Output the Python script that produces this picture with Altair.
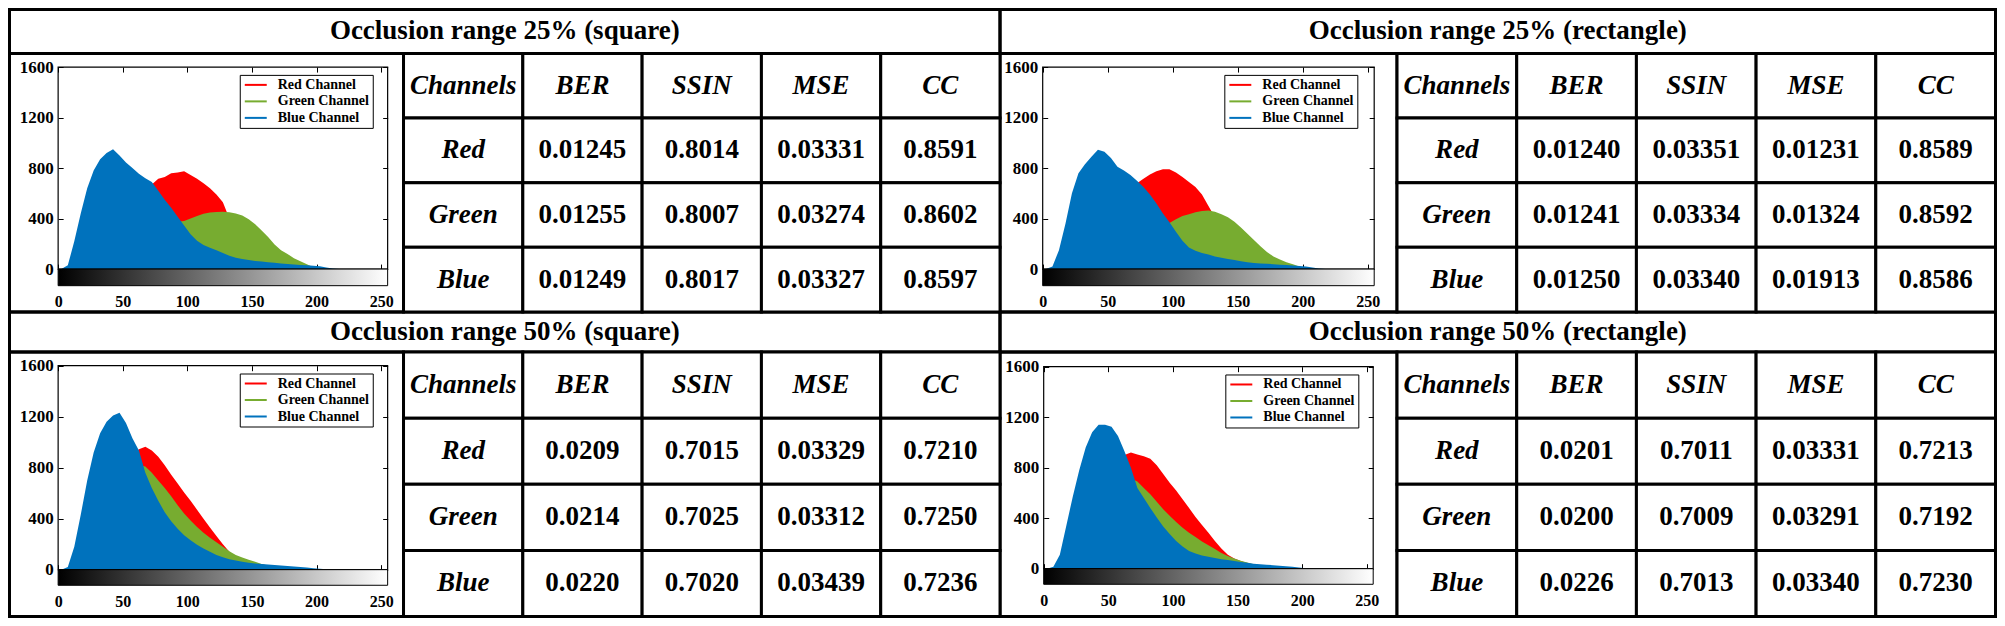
import altair as alt
import pandas as pd

W, H = 1989, 610
FONT = "Liberation Serif"

# ---------------- data ----------------
LEVELS = list(range(0, 256, 5))
CHANNEL_NAMES = ["Red Channel", "Green Channel", "Blue Channel"]
CHANNEL_COLORS = ["#ff0000", "#77ac30", "#0072bd"]
TITLES = ["Occlusion range 25% (square)", "Occlusion range 25% (rectangle)",
          "Occlusion range 50% (square)", "Occlusion range 50% (rectangle)"]
HEADERS = ["Channels", "BER", "SSIN", "MSE", "CC"]
ROW_NAMES = ["Red", "Green", "Blue"]
X_TICKS = [0, 50, 100, 150, 200, 250]
Y_TICKS = [0, 400, 800, 1200, 1600]

red_25_sq = [0, 10, 40, 100, 180, 260, 340, 410, 480, 540,
             590, 620, 645, 660, 670, 715, 730, 760, 765, 775,
             745, 715, 680, 640, 590, 530, 400, 380, 350, 320,
             280, 240, 200, 160, 120, 90, 60, 40, 25, 12,
             4, 0, 0, 0, 0, 0, 0, 0, 0, 0,
             0, 0]
green_25_sq = [0, 5, 20, 50, 90, 130, 170, 200, 230, 255,
               275, 295, 310, 325, 340, 350, 360, 368, 375, 380,
               400, 420, 438, 448, 452, 455, 450, 440, 425, 395,
               355, 305, 255, 195, 150, 120, 85, 62, 38, 15,
               5, 0, 0, 0, 0, 0, 0, 0, 0, 0,
               0, 0]
blue_25_sq = [0, 30, 220, 440, 640, 780, 870, 920, 950, 900,
              845, 800, 755, 720, 690, 620, 550, 485, 415, 345,
              275, 225, 190, 168, 150, 128, 105, 90, 80, 72,
              65, 60, 55, 50, 45, 40, 37, 33, 30, 26,
              22, 12, 4, 0, 0, 0, 0, 0, 0, 0,
              0, 0]

red_25_rect = [0, 5, 30, 90, 170, 250, 330, 400, 470, 530,
               580, 620, 650, 670, 680, 715, 750, 775, 790, 790,
               765, 730, 690, 650, 590, 500, 410, 390, 360, 330,
               290, 250, 210, 165, 125, 90, 62, 42, 26, 14,
               6, 0, 0, 0, 0, 0, 0, 0, 0, 0,
               0, 0]
green_25_rect = [0, 5, 20, 50, 90, 130, 170, 200, 230, 255,
                 275, 295, 310, 320, 330, 340, 348, 355, 360, 365,
                 395, 420, 435, 450, 460, 464, 455, 435, 410, 375,
                 330, 280, 230, 180, 135, 100, 75, 55, 38, 20,
                 8, 0, 0, 0, 0, 0, 0, 0, 0, 0,
                 0, 0]
blue_25_rect = [0, 20, 150, 360, 600, 760, 830, 890, 945, 930,
                880, 810, 780, 745, 700, 650, 590, 520, 440, 370,
                295, 225, 170, 145, 128, 115, 100, 90, 80, 72,
                62, 55, 48, 45, 42, 39, 35, 32, 28, 24,
                20, 12, 4, 0, 0, 0, 0, 0, 0, 0,
                0, 0]

red_50_sq = [0, 5, 40, 110, 210, 330, 460, 580, 690, 780,
             850, 900, 945, 965, 935, 885, 820, 745, 675, 605,
             540, 470, 400, 330, 265, 200, 140, 100, 85, 70,
             55, 40, 30, 22, 16, 10, 6, 3, 0, 0,
             0, 0, 0, 0, 0, 0, 0, 0, 0, 0,
             0, 0]
green_50_sq = [0, 10, 60, 150, 260, 380, 500, 600, 690, 760,
               810, 830, 820, 810, 760, 700, 640, 575, 505, 440,
               385, 335, 290, 250, 215, 180, 145, 115, 95, 78,
               62, 45, 32, 25, 18, 12, 8, 4, 0, 0,
               0, 0, 0, 0, 0, 0, 0, 0, 0, 0,
               0, 0]
blue_50_sq = [0, 20, 180, 430, 700, 920, 1070, 1160, 1210, 1230,
              1150, 1030, 935, 760, 640, 540, 450, 380, 320, 270,
              230, 195, 165, 140, 115, 97, 82, 72, 62, 55,
              48, 44, 40, 36, 32, 28, 24, 20, 16, 12,
              8, 4, 0, 0, 0, 0, 0, 0, 0, 0,
              0, 0]

red_50_rect = [0, 5, 40, 120, 230, 360, 490, 600, 700, 780,
               840, 880, 900, 920, 905, 890, 870, 820, 750, 680,
               620, 550, 480, 410, 345, 285, 220, 160, 110, 80,
               60, 45, 33, 24, 17, 11, 6, 3, 0, 0,
               0, 0, 0, 0, 0, 0, 0, 0, 0, 0,
               0, 0]
green_50_rect = [0, 5, 40, 120, 230, 350, 470, 570, 650, 710,
                 740, 750, 740, 715, 690, 640, 590, 530, 470, 420,
                 370, 325, 285, 250, 215, 185, 155, 125, 100, 80,
                 62, 48, 36, 26, 18, 12, 7, 3, 0, 0,
                 0, 0, 0, 0, 0, 0, 0, 0, 0, 0,
                 0, 0]
blue_50_rect = [0, 15, 110, 340, 570, 780, 960, 1080, 1140, 1140,
                1125, 1050, 930, 800, 640, 560, 480, 405, 335, 275,
                220, 175, 140, 120, 105, 95, 85, 75, 68, 60,
                53, 47, 40, 36, 32, 28, 24, 20, 15, 9,
                4, 0, 0, 0, 0, 0, 0, 0, 0, 0,
                0, 0]

ber_25_sq = ["0.01245", "0.01255", "0.01249"]
ssin_25_sq = ["0.8014", "0.8007", "0.8017"]
mse_25_sq = ["0.03331", "0.03274", "0.03327"]
cc_25_sq = ["0.8591", "0.8602", "0.8597"]

ber_25_rect = ["0.01240", "0.01241", "0.01250"]
ssin_25_rect = ["0.03351", "0.03334", "0.03340"]
mse_25_rect = ["0.01231", "0.01324", "0.01913"]
cc_25_rect = ["0.8589", "0.8592", "0.8586"]

ber_50_sq = ["0.0209", "0.0214", "0.0220"]
ssin_50_sq = ["0.7015", "0.7025", "0.7020"]
mse_50_sq = ["0.03329", "0.03312", "0.03439"]
cc_50_sq = ["0.7210", "0.7250", "0.7236"]

ber_50_rect = ["0.0201", "0.0200", "0.0226"]
ssin_50_rect = ["0.7011", "0.7009", "0.7013"]
mse_50_rect = ["0.03331", "0.03291", "0.03340"]
cc_50_rect = ["0.7213", "0.7192", "0.7230"]

HISTS = [(red_25_sq, green_25_sq, blue_25_sq),
         (red_25_rect, green_25_rect, blue_25_rect),
         (red_50_sq, green_50_sq, blue_50_sq),
         (red_50_rect, green_50_rect, blue_50_rect)]
TABLES = [(ber_25_sq, ssin_25_sq, mse_25_sq, cc_25_sq),
          (ber_25_rect, ssin_25_rect, mse_25_rect, cc_25_rect),
          (ber_50_sq, ssin_50_sq, mse_50_sq, cc_50_sq),
          (ber_50_rect, ssin_50_rect, mse_50_rect, cc_50_rect)]

# ---------------- layout (reference pixel grid) ----------------
def fx(rx):
    return (rx - 2) * (W - 3) / 2001 + 1.5


def fy(ry):
    return (ry - 2) * (H - 3) / 622 + 1.5


PANELS = [
    dict(x0=2, x1=1000, y0=2, y1=312, ty=47, hx=399, px0=51, px1=383, py0=61, py1=268, gb=285),
    dict(x0=1000, x1=2003, y0=2, y1=312, ty=47, hx=1400, px0=1043, px1=1377, py0=61, py1=268, gb=285),
    dict(x0=2, x1=1000, y0=312, y1=624, ty=353, hx=399, px0=51, px1=383, py0=367, py1=576, gb=592),
    dict(x0=1000, x1=2003, y0=312, y1=624, ty=353, hx=1400, px0=1044, px1=1376, py0=368, py1=575, gb=591),
]

px_x = alt.Scale(domain=[0, W], range=[0, W], nice=False, zero=False)
px_y = alt.Scale(domain=[0, H], range=[0, H], nice=False, zero=False)

layers = []

# frames: title cells and histogram cells
frames, titles = [], []
for i, p in enumerate(PANELS):
    frames.append(dict(x=fx(p["x0"]), x2=fx(p["x1"]), y=fy(p["y0"]), y2=fy(p["ty"])))
    frames.append(dict(x=fx(p["x0"]), x2=fx(p["hx"]), y=fy(p["ty"]), y2=fy(p["y1"])))
    titles.append(dict(t=TITLES[i], x=fx((p["x0"] + p["x1"]) / 2), y=fy((p["y0"] + p["ty"]) / 2)))

layers.append(
    alt.Chart(pd.DataFrame(frames)).mark_rect(fill="transparent", stroke="black", strokeWidth=3).encode(
        x=alt.X("x:Q", scale=px_x, axis=None), x2="x2:Q",
        y=alt.Y("y:Q", scale=px_y, axis=None), y2="y2:Q")
)
layers.append(
    alt.Chart(pd.DataFrame(titles)).mark_text(font=FONT, fontSize=27, fontWeight="bold",
                                              color="black", align="center", baseline="middle").encode(
        x=alt.X("x:Q", scale=px_x, axis=None),
        y=alt.Y("y:Q", scale=px_y, axis=None), text="t:N")
)

# tables
ROW_KEYS = ["hdr"] + ROW_NAMES
for i, p in enumerate(PANELS):
    cells = []
    for c in HEADERS:
        cells.append(dict(col=c, row="hdr", label=c, it=True))
    for r_i, r in enumerate(ROW_NAMES):
        cells.append(dict(col="Channels", row=r, label=r, it=True))
        for m_i, m in enumerate(HEADERS[1:]):
            cells.append(dict(col=m, row=r, label=TABLES[i][m_i][r_i], it=False))
    df = pd.DataFrame(cells)
    xb = alt.Scale(domain=HEADERS, range=[fx(p["hx"]), fx(p["x1"])], paddingInner=0, paddingOuter=0)
    yb = alt.Scale(domain=ROW_KEYS, range=[fy(p["ty"]), fy(p["y1"])], paddingInner=0, paddingOuter=0)
    enc = dict(x=alt.X("col:N", scale=xb, axis=None), y=alt.Y("row:N", scale=yb, axis=None))
    layers.append(alt.Chart(df).mark_rect(fill="white", stroke="black", strokeWidth=3).encode(**enc))
    layers.append(alt.Chart(df).transform_filter("datum.it").mark_text(
        font=FONT, fontSize=27, fontWeight="bold", fontStyle="italic", color="black",
        align="center", baseline="middle").encode(text="label:N", **enc))
    layers.append(alt.Chart(df).transform_filter("!datum.it").mark_text(
        font=FONT, fontSize=27, fontWeight="bold", color="black",
        align="center", baseline="middle").encode(text="label:N", **enc))

# histograms
grad = alt.LinearGradient(gradient="linear",
                          stops=[alt.GradientStop(color="black", offset=0),
                                 alt.GradientStop(color="white", offset=1)],
                          x1=0, x2=1, y1=0, y2=0)

for i, p in enumerate(PANELS):
    xs = alt.Scale(domain=[0, 255], range=[fx(p["px0"]), fx(p["px1"])], nice=False, zero=False)
    ys = alt.Scale(domain=[0, 1600], range=[fy(p["py1"]), fy(p["py0"])], nice=False, zero=False)
    common = dict(grid=False, title=None)
    tick_common = dict(labels=False, domain=False, ticks=True, tickSize=5, tickWidth=1,
                       tickColor="black", zindex=0, **common)
    x_axes = [
        alt.Axis(orient="bottom", offset=fy(p["gb"]) - H, values=X_TICKS, domain=False, ticks=False,
                 tickSize=0, labelPadding=8, labelFont=FONT, labelFontSize=16, labelFontWeight="bold",
                 labelColor="black", labelFlush=False, labelOverlap=False, format="d", zindex=1, **common),
        alt.Axis(orient="top", offset=-fy(p["py1"]), values=X_TICKS, **tick_common),
        alt.Axis(orient="bottom", offset=fy(p["py0"]) - H, values=X_TICKS, **tick_common),
    ]
    y_axes = [
        alt.Axis(orient="left", offset=-fx(p["px0"]), values=Y_TICKS, domain=False, ticks=False,
                 tickSize=0, labelPadding=5, labelFont=FONT, labelFontSize=17, labelFontWeight="bold",
                 labelColor="black", labelOverlap=False, format="d", zindex=1, **common),
        alt.Axis(orient="right", offset=fx(p["px0"]) - W, values=Y_TICKS, **tick_common),
        alt.Axis(orient="left", offset=-fx(p["px1"]), values=Y_TICKS, **tick_common),
    ]
    for c_i in range(3):
        hdf = pd.DataFrame({"lv": LEVELS, "v": HISTS[i][c_i]})
        layers.append(
            alt.Chart(hdf).transform_calculate(mid="datum.lv + 2.5").mark_area(
                interpolate="linear", color=CHANNEL_COLORS[c_i], opacity=1).encode(
                x=alt.X("mid:Q", scale=xs, axis=x_axes[c_i]),
                y=alt.Y("v:Q", scale=ys, axis=y_axes[c_i]))
        )
    one = pd.DataFrame({"a": [0], "b": [255], "c": [0], "d": [1600]})
    layers.append(
        alt.Chart(one).mark_rect(fill="transparent", stroke="black", strokeWidth=1.2).encode(
            x=alt.X("a:Q", scale=xs, axis=None), x2="b:Q",
            y=alt.Y("c:Q", scale=ys, axis=None), y2="d:Q")
    )
    layers.append(
        alt.Chart(one).mark_rect(fill=grad, stroke="black", strokeWidth=1).encode(
            x=alt.X("a:Q", scale=xs, axis=None), x2="b:Q",
            y=alt.Y("c:Q", scale=ys, axis=None), y2=alt.value(fy(p["gb"])))
    )
    ldf = pd.DataFrame({"lv": [0, 0, 0], "v": [-1, -1, -1], "ch": CHANNEL_NAMES})
    layers.append(
        alt.Chart(ldf).transform_filter("datum.v >= 0").mark_line(strokeWidth=2).encode(
            x=alt.X("lv:Q", scale=xs, axis=None),
            y=alt.Y("v:Q", scale=ys, axis=None),
            color=alt.Color("ch:N", scale=alt.Scale(domain=CHANNEL_NAMES, range=CHANNEL_COLORS),
                            legend=alt.Legend(orient="none", legendX=fx(p["px0"] + 183),
                                              legendY=fy(p["py0"] + 8), title=None,
                                              strokeColor="black", fillColor="white", padding=3,
                                              rowPadding=2.5, symbolType="M-0.83,0H2.83",
                                              symbolSize=144, symbolStrokeWidth=2, labelOffset=21,
                                              labelFont=FONT, labelFontSize=14, labelFontWeight="bold",
                                              labelColor="black", cornerRadius=0)))
    )

chart = alt.layer(*layers).resolve_scale(
    x="independent", y="independent", color="independent"
).properties(
    width=W, height=H, autosize=alt.AutoSizeParams(type="none"), padding=0, background="white"
).configure_view(stroke=None)

chart.save("out.html", embed_options={"renderer": "svg", "actions": False})
